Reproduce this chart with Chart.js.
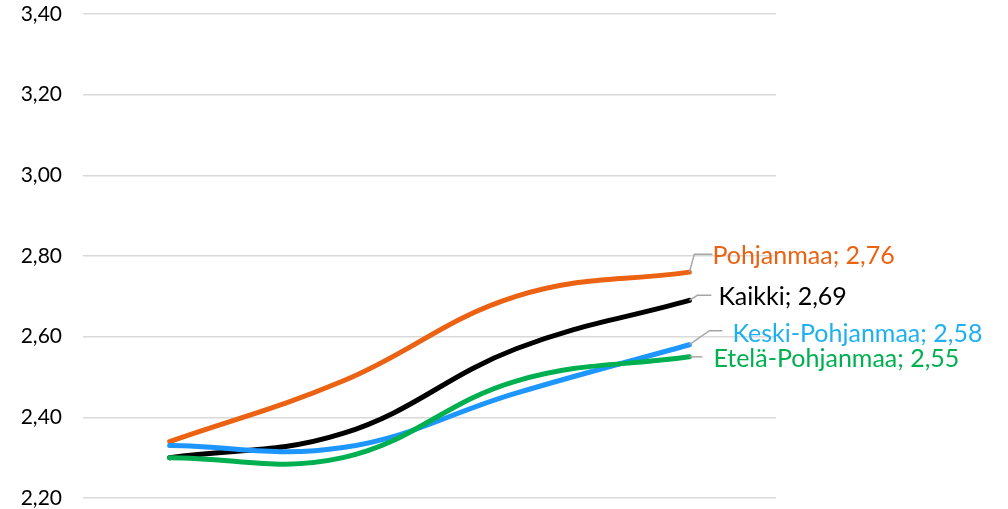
<!DOCTYPE html>
<html>
<head>
<meta charset="utf-8">
<script src="https://cdn.jsdelivr.net/npm/chart.js@4"></script>
<style>
  html, body { margin: 0; padding: 0; background: #fff; }
  #wrap { width: 1008px; height: 509px; }
</style>
</head>
<body>
<div id="wrap"><canvas id="myChart"></canvas></div>
<script>
// Data
const categories = ['1', '2', '3', '4'];
const seriesNames = ['Pohjanmaa', 'Kaikki', 'Keski-Pohjanmaa', 'Etelä-Pohjanmaa'];
const pohjanmaa = [2.34, 2.49, 2.70, 2.76];
const kaikki = [2.30, 2.36, 2.57, 2.69];
const keskiPohjanmaa = [2.33, 2.325, 2.46, 2.58];
const etelaPohjanmaa = [2.30, 2.30, 2.49, 2.55];
const yTicks = [2.20, 2.40, 2.60, 2.80, 3.00, 3.20, 3.40];

// Styles
const lineColors = ['#EB6212', '#000000', '#1E96FF', '#00B050'];
const labelColors = ['#EB6212', '#000000', '#1FB0F0', '#00B050'];
// leader line: elbow point, end point, text position (offsets from last point)
const leaders = [
    { elbow: [5, -18], end: [23, -18], text: [23, -16] },
    { elbow: [8, -5], end: [22, -5], text: [29, -3] },
    { elbow: [20, -14], end: [33, -14], text: [43, -11] },
    { elbow: [0, 0], end: [13, 0], text: [24, 2] }
];

const fmt = v => v.toFixed(2).replace('.', ',');

const allSeries = [pohjanmaa, kaikki, keskiPohjanmaa, etelaPohjanmaa];

// draw in reverse so orange ends up on top
const data = {
    labels: categories,
    datasets: allSeries.map((s, i) => ({
        label: seriesNames[i],
        data: s,
        idx: i,
        borderColor: lineColors[i],
        backgroundColor: lineColors[i],
        borderWidth: 5,
        borderCapStyle: 'round',
        pointRadius: 0,
        tension: 0.4,
        fill: false
    })).reverse()
};

// end-of-line labels with leader lines
const endLabels = {
    id: 'endLabels',
    afterDatasetsDraw(chart) {
        const ctx = chart.ctx;
        chart.data.datasets.forEach((ds, j) => {
            const i = ds.idx;
            const meta = chart.getDatasetMeta(j);
            const last = meta.data[meta.data.length - 1];
            const px = last.x, py = last.y;
            const l = leaders[i];
            ctx.save();
            ctx.strokeStyle = '#A6A6A6';
            ctx.lineWidth = 1.5;
            ctx.beginPath();
            ctx.moveTo(px, py);
            ctx.lineTo(px + l.elbow[0], py + l.elbow[1]);
            ctx.lineTo(px + l.end[0], py + l.end[1]);
            ctx.stroke();
            ctx.fillStyle = labelColors[i];
            ctx.font = '25px Lato';
            ctx.textAlign = 'left';
            ctx.textBaseline = 'middle';
            ctx.fillText(ds.label + '; ' + fmt(ds.data[ds.data.length - 1]), px + l.text[0], py + l.text[1]);
            ctx.restore();
        });
    }
};

const config = {
    type: 'line',
    data: data,
    options: {
        responsive: true,
        maintainAspectRatio: false,
        animation: false,
        layout: { padding: { top: 14, right: 232, bottom: 11, left: 0 } },
        scales: {
            x: {
                display: false,
                offset: true
            },
            y: {
                min: 2.2,
                max: 3.4,
                afterBuildTicks: scale => { scale.ticks = yTicks.map(v => ({ value: v })); },
                afterFit: scale => {
                    scale.width = 83;
                    scale.paddingTop = 0;
                    scale.paddingBottom = 0;
                },
                border: { display: false },
                grid: { color: '#D9D9D9', lineWidth: 1.5, drawTicks: false },
                ticks: {
                    padding: 21,
                    color: '#000000',
                    font: { family: 'Lato', size: 21 },
                    callback: v => fmt(v)
                }
            }
        },
        plugins: {
            legend: { display: false },
            tooltip: { enabled: false }
        }
    },
    plugins: [endLabels]
};

const myChart = new Chart(document.querySelector('#myChart'), config);
</script>
</body>
</html>
